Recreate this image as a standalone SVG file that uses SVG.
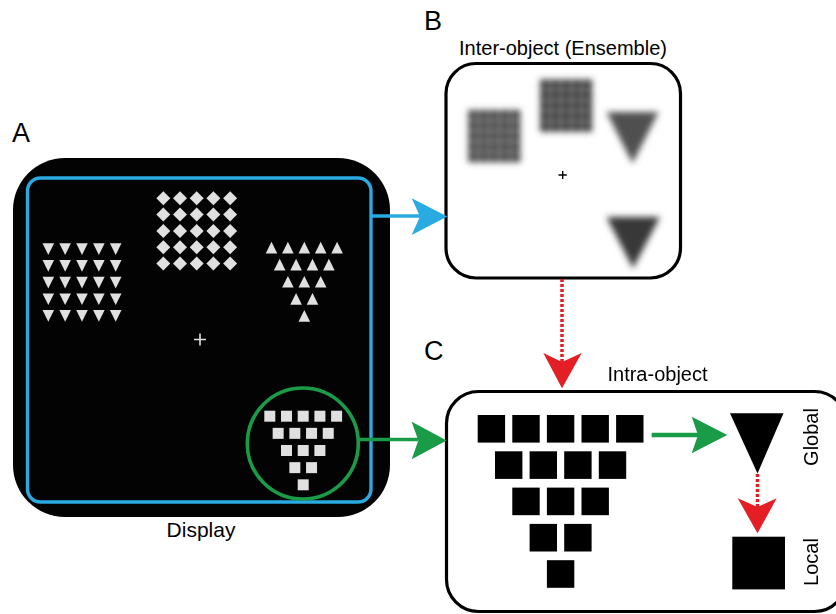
<svg xmlns="http://www.w3.org/2000/svg" width="836" height="614" viewBox="0 0 836 614">
  <style>
    .lbl { font-family: "Liberation Sans", Arial, sans-serif; font-size: 27px; fill: #000; }
    .cap { font-family: "Liberation Sans", Arial, sans-serif; font-size: 20px; fill: #000; }
    .stim { fill: #e0e0e0; }
    .frame { fill: #fff; stroke: #000; stroke-width: 3.2; }
    .blue { stroke: #29abe2; fill: none; stroke-width: 3.4; }
    .green { stroke: #1a9b48; fill: none; stroke-width: 3.6; }
    .reddot { stroke: #e31e24; fill: none; stroke-width: 3.5; stroke-dasharray: 3 2; }
    .blk { fill: #000; }
  </style>
  <defs>
    <filter id="soft" x="-30%" y="-30%" width="160%" height="160%">
      <feGaussianBlur stdDeviation="3"/>
    </filter>
    <!-- 5x5 unit grid used for the blurred ensembles -->
    <g id="grid5">
      <rect x="0" y="0" width="9.8" height="9.8"/><rect x="10.6" y="0" width="9.8" height="9.8"/><rect x="21.2" y="0" width="9.8" height="9.8"/><rect x="31.8" y="0" width="9.8" height="9.8"/><rect x="42.4" y="0" width="9.8" height="9.8"/>
      <rect x="0" y="10.6" width="9.8" height="9.8"/><rect x="10.6" y="10.6" width="9.8" height="9.8"/><rect x="21.2" y="10.6" width="9.8" height="9.8"/><rect x="31.8" y="10.6" width="9.8" height="9.8"/><rect x="42.4" y="10.6" width="9.8" height="9.8"/>
      <rect x="0" y="21.2" width="9.8" height="9.8"/><rect x="10.6" y="21.2" width="9.8" height="9.8"/><rect x="21.2" y="21.2" width="9.8" height="9.8"/><rect x="31.8" y="21.2" width="9.8" height="9.8"/><rect x="42.4" y="21.2" width="9.8" height="9.8"/>
      <rect x="0" y="31.8" width="9.8" height="9.8"/><rect x="10.6" y="31.8" width="9.8" height="9.8"/><rect x="21.2" y="31.8" width="9.8" height="9.8"/><rect x="31.8" y="31.8" width="9.8" height="9.8"/><rect x="42.4" y="31.8" width="9.8" height="9.8"/>
      <rect x="0" y="42.4" width="9.8" height="9.8"/><rect x="10.6" y="42.4" width="9.8" height="9.8"/><rect x="21.2" y="42.4" width="9.8" height="9.8"/><rect x="31.8" y="42.4" width="9.8" height="9.8"/><rect x="42.4" y="42.4" width="9.8" height="9.8"/>
    </g>
    <polygon id="dn" points="-5.8,0 5.8,0 0,11.7"/>
    <polygon id="up" points="-5.8,11.7 5.8,11.7 0,0"/>
    <polygon id="dia" points="0,-7 7,0 0,7 -7,0"/>
    <rect id="sq" x="-5.5" y="-5.5" width="11" height="11"/>
    <rect id="bsq" x="-13.7" y="0" width="27.4" height="27.6"/>
  </defs>

  <!-- panel letters -->
  <text class="lbl" x="12" y="142">A</text>
  <text class="lbl" x="424" y="30">B</text>
  <text class="lbl" x="424" y="360">C</text>

  <!-- A: display -->
  <g id="display">
    <rect x="13" y="158" width="377" height="359" rx="52" fill="#030303"/>
    <g class="stim">
      <!-- inverted triangles grid -->
      <g transform="translate(48.3,243.3)">
        <use href="#dn" x="0" y="0"/><use href="#dn" x="16.85" y="0"/><use href="#dn" x="33.7" y="0"/><use href="#dn" x="50.55" y="0"/><use href="#dn" x="67.4" y="0"/>
        <use href="#dn" x="0" y="16.7"/><use href="#dn" x="16.85" y="16.7"/><use href="#dn" x="33.7" y="16.7"/><use href="#dn" x="50.55" y="16.7"/><use href="#dn" x="67.4" y="16.7"/>
        <use href="#dn" x="0" y="33.4"/><use href="#dn" x="16.85" y="33.4"/><use href="#dn" x="33.7" y="33.4"/><use href="#dn" x="50.55" y="33.4"/><use href="#dn" x="67.4" y="33.4"/>
        <use href="#dn" x="0" y="50.1"/><use href="#dn" x="16.85" y="50.1"/><use href="#dn" x="33.7" y="50.1"/><use href="#dn" x="50.55" y="50.1"/><use href="#dn" x="67.4" y="50.1"/>
        <use href="#dn" x="0" y="66.8"/><use href="#dn" x="16.85" y="66.8"/><use href="#dn" x="33.7" y="66.8"/><use href="#dn" x="50.55" y="66.8"/><use href="#dn" x="67.4" y="66.8"/>
      </g>
      <!-- diamonds grid -->
      <g transform="translate(163.3,198.3)">
        <use href="#dia" x="0" y="0"/><use href="#dia" x="16.7" y="0"/><use href="#dia" x="33.4" y="0"/><use href="#dia" x="50.1" y="0"/><use href="#dia" x="66.8" y="0"/>
        <use href="#dia" x="0" y="16.3"/><use href="#dia" x="16.7" y="16.3"/><use href="#dia" x="33.4" y="16.3"/><use href="#dia" x="50.1" y="16.3"/><use href="#dia" x="66.8" y="16.3"/>
        <use href="#dia" x="0" y="32.6"/><use href="#dia" x="16.7" y="32.6"/><use href="#dia" x="33.4" y="32.6"/><use href="#dia" x="50.1" y="32.6"/><use href="#dia" x="66.8" y="32.6"/>
        <use href="#dia" x="0" y="48.9"/><use href="#dia" x="16.7" y="48.9"/><use href="#dia" x="33.4" y="48.9"/><use href="#dia" x="50.1" y="48.9"/><use href="#dia" x="66.8" y="48.9"/>
        <use href="#dia" x="0" y="65.2"/><use href="#dia" x="16.7" y="65.2"/><use href="#dia" x="33.4" y="65.2"/><use href="#dia" x="50.1" y="65.2"/><use href="#dia" x="66.8" y="65.2"/>
      </g>
      <!-- upright triangles forming an inverted triangle -->
      <g transform="translate(304.3,241.7)">
        <use href="#up" x="-32.8" y="0"/><use href="#up" x="-16.4" y="0"/><use href="#up" x="0" y="0"/><use href="#up" x="16.4" y="0"/><use href="#up" x="32.8" y="0"/>
        <use href="#up" x="-24.6" y="17.1"/><use href="#up" x="-8.2" y="17.1"/><use href="#up" x="8.2" y="17.1"/><use href="#up" x="24.6" y="17.1"/>
        <use href="#up" x="-16.4" y="34.2"/><use href="#up" x="0" y="34.2"/><use href="#up" x="16.4" y="34.2"/>
        <use href="#up" x="-8.2" y="51.3"/><use href="#up" x="8.2" y="51.3"/>
        <use href="#up" x="0" y="68.4"/>
      </g>
      <!-- squares forming an inverted triangle -->
      <g transform="translate(303.2,416.2)">
        <use href="#sq" x="-33.4" y="0"/><use href="#sq" x="-16.7" y="0"/><use href="#sq" x="0" y="0"/><use href="#sq" x="16.7" y="0"/><use href="#sq" x="33.4" y="0"/>
        <use href="#sq" x="-25.05" y="17.15"/><use href="#sq" x="-8.35" y="17.15"/><use href="#sq" x="8.35" y="17.15"/><use href="#sq" x="25.05" y="17.15"/>
        <use href="#sq" x="-16.7" y="34.3"/><use href="#sq" x="0" y="34.3"/><use href="#sq" x="16.7" y="34.3"/>
        <use href="#sq" x="-8.35" y="51.45"/><use href="#sq" x="8.35" y="51.45"/>
        <use href="#sq" x="0" y="68.6"/>
      </g>
    </g>
    <!-- fixation cross -->
    <path d="M194,339.5 H206 M200,333.5 V345.5" stroke="#e0e0e0" stroke-width="1.6" fill="none"/>
    <rect class="blue" x="27.5" y="178" width="343.5" height="324" rx="13"/>
    <circle class="green" cx="302.8" cy="443.5" r="55.5"/>
    <text class="cap" x="201" y="537" text-anchor="middle" style="font-size:21px">Display</text>
  </g>

  <!-- B: inter-object (ensemble) -->
  <g id="ensemble">
    <text class="cap" x="563" y="55" text-anchor="middle">Inter-object (Ensemble)</text>
    <rect class="frame" x="446" y="63.5" width="234.5" height="214.5" rx="30"/>
    <g filter="url(#soft)">
      <use href="#grid5" x="468.2" y="110" fill="#474747"/>
      <use href="#grid5" x="540" y="79.5" fill="#3c3c3c"/>
      <polygon points="606.5,112 658.5,112 632.5,163.5" fill="#505050"/>
      <polygon points="606.5,217 660,217 633,268.5" fill="#383838"/>
    </g>
    <path d="M558.5,175 H566.8 M562.7,170.9 V179.1" stroke="#000" stroke-width="1.4" fill="none"/>
  </g>

  <!-- C: intra-object -->
  <g id="intra">
    <text class="cap" x="657.5" y="381" text-anchor="middle">Intra-object</text>
    <rect class="frame" x="446.5" y="391.5" width="400" height="220" rx="32"/>
    <g class="blk" transform="translate(560.6,415)">
      <use href="#bsq" x="-69.2" y="0"/><use href="#bsq" x="-34.6" y="0"/><use href="#bsq" x="0" y="0"/><use href="#bsq" x="34.6" y="0"/><use href="#bsq" x="69.2" y="0"/>
      <use href="#bsq" x="-51.9" y="36.3"/><use href="#bsq" x="-17.3" y="36.3"/><use href="#bsq" x="17.3" y="36.3"/><use href="#bsq" x="51.9" y="36.3"/>
      <use href="#bsq" x="-34.6" y="72.6"/><use href="#bsq" x="0" y="72.6"/><use href="#bsq" x="34.6" y="72.6"/>
      <use href="#bsq" x="-17.3" y="108.9"/><use href="#bsq" x="17.3" y="108.9"/>
      <use href="#bsq" x="0" y="145.2"/>
    </g>
  </g>

  <g id="global">
    <polygon class="blk" points="730,413.3 783.5,413.3 757.5,473.5"/>
    <text class="cap" transform="translate(817.5,437) rotate(-90)" text-anchor="middle">Global</text>
  </g>

  <g id="local">
    <rect class="blk" x="732.3" y="536.7" width="52.7" height="52.7"/>
    <text class="cap" transform="translate(817.5,562) rotate(-90)" text-anchor="middle">Local</text>
  </g>

  <!-- connectors -->
  <g id="connectors">
    <path class="blue" d="M371,216 H420"/>
    <polygon points="447.3,216.5 411.7,198.3 420,216.5 411.7,235" fill="#29abe2"/>

    <path class="green" d="M358.3,439.5 H418"/>
    <polygon points="446.7,440.5 411.7,421.7 418.3,440.5 411.7,459.3" fill="#1a9b48"/>

    <path class="reddot" d="M562,279 V362"/>
    <polygon points="562,388.3 543.3,353 562,362 581.7,353" fill="#e31e24"/>

    <path d="M651.7,435 H699" stroke="#1a9b48" stroke-width="4.4" fill="none"/>
    <polygon points="727.3,435 691.7,416.7 698,435 691.7,453.3" fill="#1a9b48"/>

    <path class="reddot" d="M757.5,474 V507"/>
    <polygon points="757.5,533.3 737.7,498.3 757.5,507 776.7,498.3" fill="#e31e24"/>
  </g>
</svg>
